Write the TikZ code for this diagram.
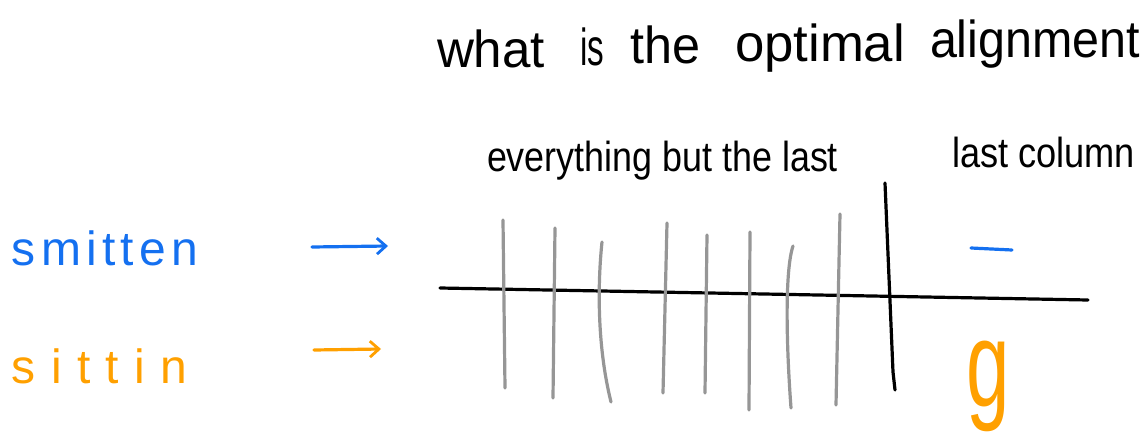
\documentclass[tikz,border=0pt]{standalone}
\usepackage{fontspec}
\setmainfont{Liberation Sans}
\usepackage{graphicx}
\usetikzlibrary{arrows.meta}
\definecolor{penblue}{RGB}{20,112,240}
\definecolor{penorange}{RGB}{255,160,0}
\definecolor{pengray}{RGB}{150,150,150}
\newcommand\fitw[2]{\resizebox{#1}{\height}{#2}}
\tikzset{
  word/.style={inner sep=0pt, outer sep=0pt, anchor=base west},
  title/.style={word, font=\fontsize{52}{52}\selectfont},
  head/.style={word, font=\fontsize{42}{42}\selectfont},
  seq/.style={word, font=\fontsize{48}{48}\selectfont},
  barstroke/.style={pengray, line width=3.2pt, line cap=round},
  pen/.style={line width=3.2pt, line cap=round},
  arr/.style={pen, -{Straight Barb[length=9pt, width=16pt, line width=2.8pt]}},
}
\begin{document}
\begin{tikzpicture}[x=1pt, y=-1pt]
\useasboundingbox (0,0) rectangle (1144,436);

% title
\node[title] (t1) at (437,68) {\fitw{108pt}{what}};
\node[title] (t2) at (580,66) {\fitw{24pt}{is}};
\node[title] (t3) at (630,64) {\fitw{70pt}{the}};
\node[title] (t4) at (735,62) {\fitw{170pt}{optimal}};
\node[title] (t5) at (930,58) {\fitw{210pt}{alignment}};

% headings
\node[head] (h1) at (487,171) {\fitw{351pt}{everything but the last}};
\node[head] (h2) at (952,167) {\fitw{183pt}{last column}};

% sequences
\node[seq, penblue] (s1) at (12,265) {\addfontfeature{LetterSpace=10.9}smitten};
\node[seq, penorange] (s2) at (12,383) {\addfontfeature{LetterSpace=31.8}sittin};

% arrows
\coordinate (a1s) at (312,247);
\coordinate (a1e) at (388,246);
\coordinate (a2s) at (314,350);
\coordinate (a2e) at (381,349);
\draw[arr, penblue] (a1s) -- (a1e);
\draw[arr, penorange] (a2s) -- (a2e);

% horizontal divider
\coordinate (hl) at (440,288);
\coordinate (hr) at (1088,300);
\draw[pen] (hl) -- (hr);

% gray column lines
\draw[barstroke] (503,220) -- (505,388);
\draw[barstroke] (555,228) -- (553,398);
\draw[barstroke] (602,242) .. controls (597,290) and (598,350) .. (611,402);
\draw[barstroke] (667,223) -- (663,393);
\draw[barstroke] (707,235) -- (705,393);
\draw[barstroke] (750,232) -- (749,410);
\draw[barstroke] (793,246) .. controls (785,270) and (786,340) .. (791,408);
\draw[barstroke] (840,214) -- (836,405);

% black separator
\coordinate (vt) at (885,183);
\coordinate (vb) at (895,390);
\draw[pen] (vt) -- (893,372) -- (vb);

% last column
\coordinate (d1) at (971,248);
\coordinate (d2) at (1012,250);
\draw[pen, penblue] (d1) -- (d2);
\node[word, penorange, font=\fontsize{100}{100}\selectfont] (g) at (966,406) {\scalebox{0.78}[1.22]{g}};
\end{tikzpicture}
\end{document}
